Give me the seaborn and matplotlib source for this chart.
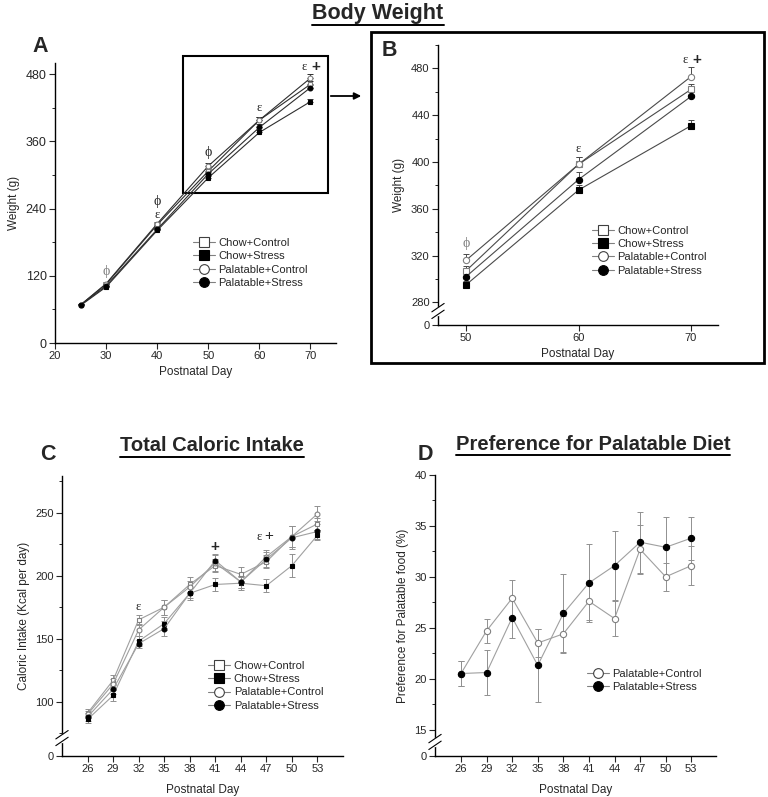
import numpy as np
import pandas as pd
import matplotlib
matplotlib.use("Agg")
import matplotlib.pyplot as plt
import seaborn as sns
from matplotlib.patches import Rectangle
from matplotlib.lines import Line2D

sns.set_style("ticks")
plt.rcParams["font.family"] = ["Liberation Sans", "DejaVu Sans"]
plt.rcParams["font.size"] = 8

GROUPS = ["Chow+Control", "Chow+Stress", "Palatable+Control", "Palatable+Stress"]

# body weight (g), upward SEM only
bw_days = [25, 30, 40, 50, 60, 70]
bw_chow_ctrl = [68, 105, 211, 307, 398, 462]
bw_chow_stress = [67, 100, 201, 295, 376, 431]
bw_pal_ctrl = [68, 106, 213, 316, 398, 473]
bw_pal_stress = [68, 102, 203, 302, 385, 456]
bw_err_chow_ctrl = [2, 3, 3, 4, 6, 5]
bw_err_chow_stress = [2, 2, 3, 3, 4, 5]
bw_err_pal_ctrl = [2, 3, 3, 5, 6, 8]
bw_err_pal_stress = [2, 3, 3, 4, 6, 4]

# total caloric intake (kcal/day)
ci_days = [26, 29, 32, 35, 38, 41, 44, 47, 50, 53]
ci_chow_ctrl = [91, 117, 165, 175, 193, 208, 201, 211, 231, 241]
ci_chow_stress = [86, 105, 148, 162, 186, 193, 194, 192, 208, 232]
ci_pal_ctrl = [90, 114, 157, 175, 191, 210, 195, 215, 231, 249]
ci_pal_stress = [88, 110, 146, 158, 186, 212, 195, 213, 230, 235]
ci_err_chow_ctrl = [3, 4, 4, 6, 6, 5, 6, 5, 8, 5]
ci_err_chow_stress = [3, 4, 4, 5, 4, 5, 5, 5, 9, 4]
ci_err_pal_ctrl = [3, 4, 5, 6, 5, 6, 5, 5, 8, 6]
ci_err_pal_stress = [3, 4, 3, 6, 5, 5, 5, 6, 9, 6]

# preference for palatable food (%)
pref_days = [26, 29, 32, 35, 38, 41, 44, 47, 50, 53]
pref_pal_ctrl = [20.5, 24.7, 27.9, 23.5, 24.4, 27.6, 25.9, 32.7, 30.0, 31.1]
pref_pal_stress = [20.5, 20.6, 26.0, 21.3, 26.4, 29.4, 31.1, 33.4, 32.9, 33.8]
pref_err_pal_ctrl = [1.2, 1.2, 1.8, 1.4, 1.8, 1.8, 1.7, 2.4, 1.4, 1.9]
pref_err_pal_stress = [1.2, 2.2, 2.0, 3.6, 3.9, 3.8, 3.4, 3.0, 3.0, 2.1]

STYLE = {
    "Chow+Control": dict(marker="s", mfc="white", mec="#808080"),
    "Chow+Stress": dict(marker="s", mfc="black", mec="black"),
    "Palatable+Control": dict(marker="o", mfc="white", mec="#808080"),
    "Palatable+Stress": dict(marker="o", mfc="black", mec="black"),
}


def long_df(days, series):
    rows = []
    for g, (vals, errs) in series.items():
        for d, v, e in zip(days, vals, errs):
            rows.append((g, d, v, e))
    return pd.DataFrame(rows, columns=["group", "day", "value", "err"])


bw_df = long_df(bw_days, {
    "Chow+Control": (bw_chow_ctrl, bw_err_chow_ctrl),
    "Chow+Stress": (bw_chow_stress, bw_err_chow_stress),
    "Palatable+Control": (bw_pal_ctrl, bw_err_pal_ctrl),
    "Palatable+Stress": (bw_pal_stress, bw_err_pal_stress),
})
ci_df = long_df(ci_days, {
    "Chow+Control": (ci_chow_ctrl, ci_err_chow_ctrl),
    "Chow+Stress": (ci_chow_stress, ci_err_chow_stress),
    "Palatable+Control": (ci_pal_ctrl, ci_err_pal_ctrl),
    "Palatable+Stress": (ci_pal_stress, ci_err_pal_stress),
})
pref_df = long_df(pref_days, {
    "Palatable+Control": (pref_pal_ctrl, pref_err_pal_ctrl),
    "Palatable+Stress": (pref_pal_stress, pref_err_pal_stress),
})


def draw_groups(ax, df, groups, line_color, err_color, ms, upper_only=False, lw=0.8):
    for g in groups:
        sub = df[df["group"] == g]
        st = STYLE[g]
        if upper_only:
            yerr = [np.zeros(len(sub)), sub["err"].values]
        else:
            yerr = sub["err"].values
        ax.errorbar(sub["day"], sub["value"], yerr=yerr, fmt="none",
                    ecolor=err_color, elinewidth=0.7, capsize=2, capthick=0.7, zorder=1.5)
        sns.lineplot(data=sub, x="day", y="value", ax=ax, color=line_color, lw=lw,
                     marker=st["marker"], markersize=ms, markerfacecolor=st["mfc"],
                     markeredgecolor=st["mec"], markeredgewidth=0.8, errorbar=None,
                     legend=False, zorder=2)


def add_legend(ax, groups, anchor, line_color):
    handles = [Line2D([], [], color=line_color, lw=0.8, marker=STYLE[g]["marker"],
                      markersize=7, markerfacecolor=STYLE[g]["mfc"],
                      markeredgecolor=STYLE[g]["mec"] if STYLE[g]["mfc"] == "black" else "#404040",
                      markeredgewidth=0.8) for g in groups]
    ax.legend(handles, groups, loc="upper left", bbox_to_anchor=anchor, frameon=False,
              fontsize=8, handlelength=2.0, handletextpad=0.3, labelspacing=0.3,
              borderpad=0, borderaxespad=0)


def style_axes(ax, labelpad=3):
    sns.despine(ax=ax)
    for s in ("left", "bottom"):
        ax.spines[s].set_linewidth(1.0)
        ax.spines[s].set_color("black")
    ax.tick_params(which="major", direction="out", length=4, width=0.8, labelsize=8, pad=2)
    ax.tick_params(which="minor", direction="out", length=2.5, width=0.7)
    ax.set_xlabel("Postnatal Day", fontsize=8.5, labelpad=labelpad)


def add_break(ax, yfrac):
    ax.plot([0, 0], [yfrac - 0.012, yfrac + 0.012], transform=ax.transAxes,
            color="white", lw=2.5, clip_on=False, zorder=5)
    for dy in (-0.012, 0.012):
        ax.plot([-0.022, 0.022], [yfrac + dy - 0.015, yfrac + dy + 0.015],
                transform=ax.transAxes, color="black", lw=0.8, clip_on=False, zorder=6)


W, H = 768, 797
fig = plt.figure(figsize=(W / 100, H / 100), dpi=100)


def px_axes(left, top, right, bottom):
    return fig.add_axes([left / W, 1 - bottom / H, (right - left) / W, (bottom - top) / H])


greek = ["Liberation Serif", "DejaVu Serif"]

# ---- A: body weight
axA = px_axes(55, 63, 336, 343)
draw_groups(axA, bw_df, GROUPS, "#2e2e2e", "#2e2e2e", 3.5, upper_only=True)
style_axes(axA)
axA.tick_params(axis="y", labelsize=9)
axA.set_xlim(20, 75)
axA.set_ylim(0, 500)
axA.set_xticks([20, 30, 40, 50, 60, 70])
axA.set_yticks([0, 120, 240, 360, 480])
axA.set_yticks([60, 180, 300, 420], minor=True)
axA.set_ylabel("Weight (g)", fontsize=8.5)
add_legend(axA, GROUPS, (0.49, 0.375), "#808080")
axA.text(30, 128, "ϕ", ha="center", va="center", fontsize=10, color="#808080", family=greek)
axA.text(40, 253, "ϕ", ha="center", va="center", fontsize=10, family=greek)
axA.text(40, 228, "ε", ha="center", va="center", fontsize=9, family=greek)
axA.text(50, 341, "ϕ", ha="center", va="center", fontsize=10, family=greek)
axA.text(60, 419, "ε", ha="center", va="center", fontsize=9, family=greek)
axA.text(68.8, 492, "ε", ha="center", va="center", fontsize=9, family=greek)
axA.text(71.0, 493, "+", ha="center", va="center", fontsize=11, fontweight="bold")
axA.add_patch(Rectangle((45.1, 267), 28.4, 246, fill=False, lw=1.5, ec="black", clip_on=False))
fig.add_artist(matplotlib.patches.FancyArrowPatch(
    (328 / W, 1 - 96 / H), (364 / W, 1 - 96 / H), transform=fig.transFigure,
    arrowstyle="-|>", mutation_scale=10, lw=1.3, color="black"))

# ---- B: zoomed body weight
fig.add_artist(Rectangle((371 / W, 1 - 363 / H), 393 / W, 331 / H, transform=fig.transFigure,
                         fill=False, lw=2.0, ec="black"))
axB = px_axes(438, 45, 718, 325)
draw_groups(axB, bw_df[bw_df["day"] >= 50], GROUPS, "#4a4a4a", "#4a4a4a", 4.5, upper_only=True)
style_axes(axB)
axB.set_xlim(47.5, 72.4)
axB.set_ylim(260.6, 500)
axB.set_xticks([50, 60, 70])
axB.set_yticks([260.6, 280, 320, 360, 400, 440, 480])
axB.set_yticklabels(["0", "280", "320", "360", "400", "440", "480"])
axB.set_yticks([300, 340, 380, 420, 460, 500], minor=True)
axB.set_ylabel("Weight (g)", fontsize=8.5)
add_break(axB, 0.05)
add_legend(axB, GROUPS, (0.55, 0.355), "#808080")
axB.text(50, 330, "ϕ", ha="center", va="center", fontsize=10, color="#808080", family=greek)
axB.text(60, 411, "ε", ha="center", va="center", fontsize=9, family=greek)
axB.text(69.5, 487, "ε", ha="center", va="center", fontsize=9, family=greek)
axB.text(70.5, 487.5, "+", ha="center", va="center", fontsize=11, fontweight="bold")

# ---- C: total caloric intake
axC = px_axes(62, 476, 343, 756)
draw_groups(axC, ci_df, GROUPS, "#a0a0a0", "#909090", 3.5)
style_axes(axC, labelpad=7)
axC.set_xlim(23, 56)
axC.set_ylim(57, 279)
axC.set_xticks(ci_days)
axC.set_yticks([57, 100, 150, 200, 250])
axC.set_yticklabels(["0", "100", "150", "200", "250"])
axC.set_yticks([75, 125, 175, 225, 275], minor=True)
axC.set_ylabel("Caloric Intake (Kcal per day)", fontsize=8.5)
add_break(axC, 0.064)
add_legend(axC, GROUPS, (0.52, 0.34), "#808080")
axC.text(32, 175, "ε", ha="center", va="center", fontsize=9, family=greek)
axC.text(41, 223, "+", ha="center", va="center", fontsize=11, fontweight="bold")
axC.text(46.2, 231, "ε", ha="center", va="center", fontsize=9, family=greek)
axC.text(47.3, 231.5, "+", ha="center", va="center", fontsize=11)

# ---- D: preference for palatable diet
axD = px_axes(435, 475, 716, 756)
draw_groups(axD, pref_df, GROUPS[2:], "#a0a0a0", "#909090", 4.5)
style_axes(axD, labelpad=7)
axD.set_xlim(22.95, 55.9)
axD.set_ylim(12.4, 40)
axD.set_xticks(pref_days)
axD.set_yticks([12.4, 15, 20, 25, 30, 35, 40])
axD.set_yticklabels(["0", "15", "20", "25", "30", "35", "40"])
axD.set_yticks([17.5, 22.5, 27.5, 32.5, 37.5], minor=True)
axD.set_ylabel("Preference for Palatable food (%)", fontsize=8.5)
add_break(axD, 0.05)
add_legend(axD, GROUPS[2:], (0.54, 0.31), "#808080")


# ---- titles and panel letters
def title_underlined(text, cx, cy, size):
    t = fig.text(cx / W, 1 - cy / H, text, ha="center", va="center",
                 fontsize=size, fontweight="bold")
    bb = t.get_window_extent(renderer=fig.canvas.get_renderer())
    y = bb.y0 - 1.5
    fig.add_artist(Line2D([bb.x0 / W, bb.x1 / W], [y / H, y / H], color="black", lw=1.4,
                          transform=fig.transFigure))


title_underlined("Body Weight", 378, 13, 15.5)
title_underlined("Total Caloric Intake", 212, 446, 14.5)
title_underlined("Preference for Palatable Diet", 593, 444, 14.5)

for letter, x, y in [("A", 32, 47), ("B", 382, 50), ("C", 40, 455), ("D", 418, 455)]:
    fig.text(x / W, 1 - y / H, letter, ha="left", va="center", fontsize=15.5, fontweight="bold")

fig.savefig("out.png", dpi=100)
